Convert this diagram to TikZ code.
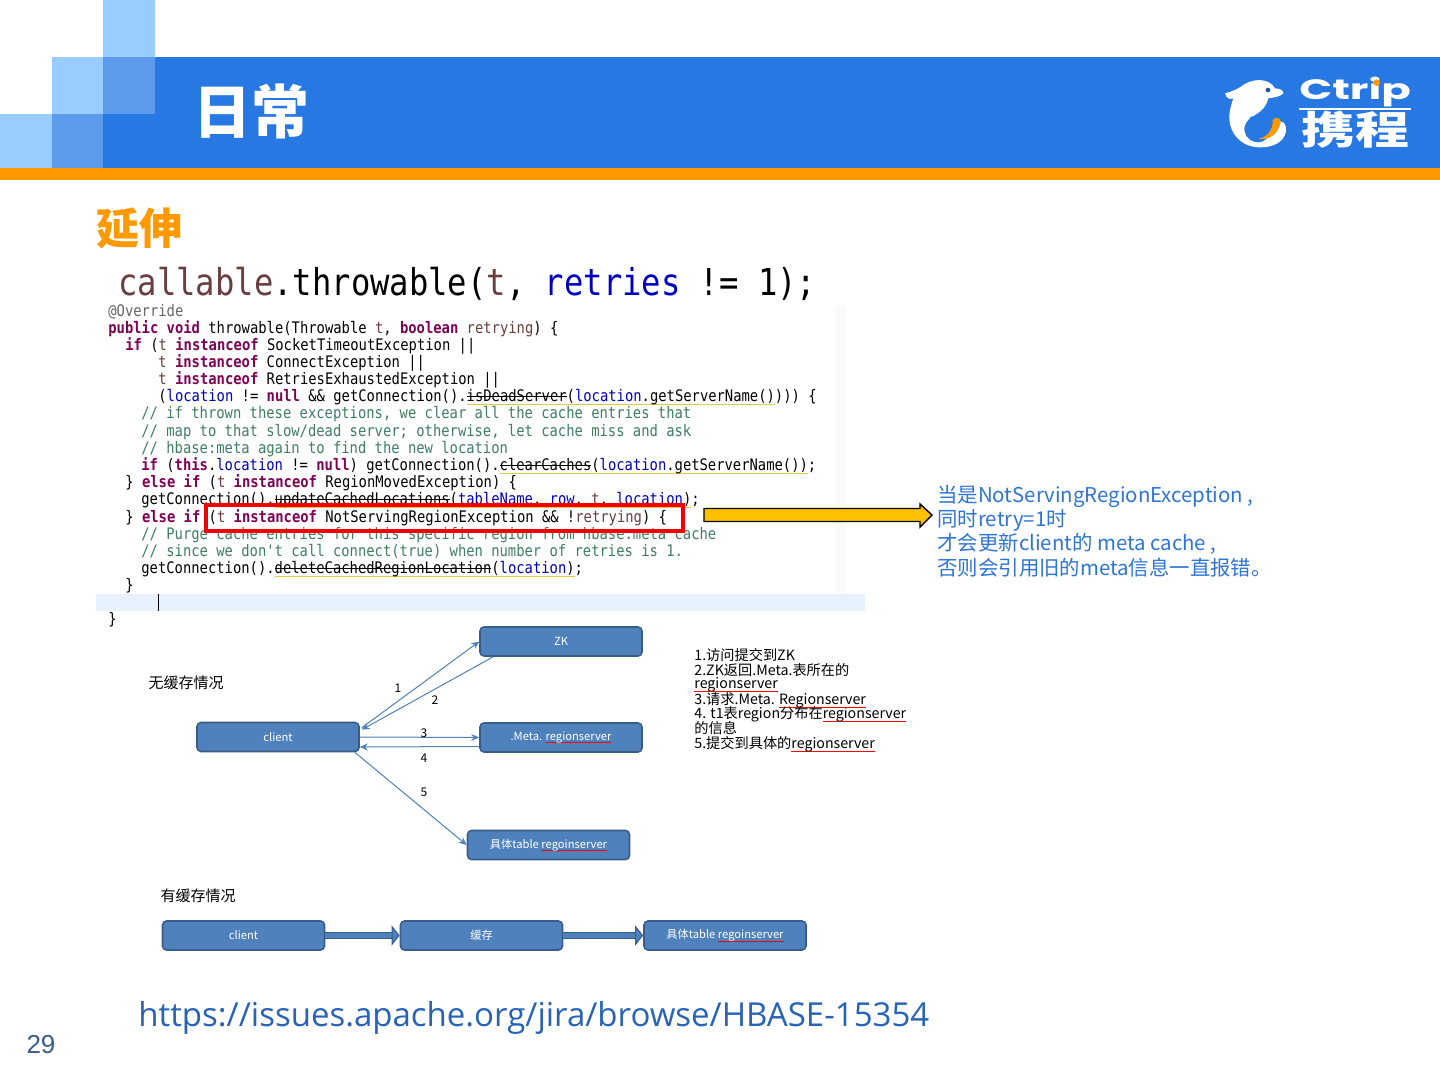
\documentclass[tikz,border=0pt]{standalone}
\usepackage{fontspec}
\setmainfont{Noto Sans CJK SC}
\setmonofont{DejaVu Sans Mono}
\newfontfamily\urlfont{Open Sans}
\newfontfamily\numfont{Liberation Sans}
\newfontfamily\logofont{Poppins}
\usetikzlibrary{arrows.meta}
\definecolor{barblue}{HTML}{2878E3}
\definecolor{paleblue}{HTML}{99CCFF}
\definecolor{midblue}{HTML}{5C9AEB}
\definecolor{barorange}{HTML}{FF9900}
\definecolor{boxblue}{HTML}{4F81BD}
\definecolor{boxedge}{HTML}{385D8A}
\definecolor{notetext}{HTML}{2E75D6}
\definecolor{kwcol}{HTML}{7F0055}
\definecolor{fldcol}{HTML}{0000C0}
\definecolor{cmtcol}{HTML}{3F7F5F}
\definecolor{argcol}{HTML}{6A3E3E}
\definecolor{warncol}{HTML}{E8C840}
\definecolor{bandcol}{HTML}{E8F2FE}
\definecolor{calloutcol}{HTML}{FFC000}
\newcommand{\kw}[1]{\textcolor{kwcol}{\bfseries #1}}
\newcommand{\fld}[1]{\textcolor{fldcol}{#1}}
\newcommand{\arrg}[1]{\textcolor{argcol}{#1}}
\newcommand{\warnline}[1]{\setbox0=\hbox{#1}\rlap{\textcolor{warncol}{\rule[-.22em]{\wd0}{.35pt}}}#1}
\newcommand{\dep}[1]{\setbox0=\hbox{#1}\rlap{\rule[.28em]{\wd0}{.35pt}}\rlap{\textcolor{warncol}{\rule[-.22em]{\wd0}{.35pt}}}#1}
\newcommand{\spell}[1]{\setbox0=\hbox{#1}\rlap{\textcolor{red}{\rule[-.24em]{\wd0}{.35pt}}}#1}
\begin{document}
\begin{tikzpicture}[
    x=0.5pt, y=-0.5pt,
    codeline/.style={anchor=west, inner sep=0pt, text height=5.4pt, text depth=1.4pt,
      font=\ttfamily\fontsize{6.92}{8}\selectfont, yscale=1.15, transform shape, yshift=-0.5pt},
    cmtline/.style={codeline, text=cmtcol},
    bluebox/.style={draw=boxedge, fill=boxblue, line width=0.8pt, rounded corners=2pt,
      minimum width=81pt, minimum height=14.5pt, inner sep=0pt, text=white,
      font=\fontsize{5.6}{6}\selectfont},
    num/.style={inner sep=0pt, font=\fontsize{6}{7}\selectfont},
    listline/.style={anchor=west, inner sep=0pt, font=\fontsize{7.1}{8}\selectfont},
    caselabel/.style={inner sep=0pt, font=\fontsize{7.5}{8}\selectfont},
    noteline/.style={anchor=west, inner sep=0pt, text=notetext, yshift=-0.5pt, font=\fontsize{10.2}{12}\selectfont},
    thin arrow/.style={draw=boxblue, line width=0.5pt, -{Stealth[length=4pt,width=3.5pt]}},
    fat arrow/.style={draw=boxedge, line width=0.7pt, double=boxblue, double distance=2.4pt,
      -{Triangle[length=4pt,width=10pt,fill=boxblue,line width=0.5pt]}}
  ]
  \useasboundingbox (0,0) rectangle (1440,1080);
  \fill[white] (0,0) rectangle (1440,1080);

  % header
  \fill[barblue] (103,57) rectangle (1440,168);
  \fill[paleblue] (103,0) rectangle (155,57);
  \fill[paleblue] (52,57) rectangle (103,114);
  \fill[midblue] (103,57) rectangle (155,114);
  \fill[paleblue] (0,114) rectangle (52,168);
  \fill[midblue] (52,114) rectangle (103,168);
  \fill[barorange] (0,168) rectangle (1440,180);
  \node[inner sep=0pt, text=white, font=\fontsize{29}{32}\selectfont\bfseries] (title) at (251,111) {日常};
  \node[inner sep=0pt, text=barorange, font=\fontsize{21.5}{24}\selectfont\bfseries] (subtitle) at (139,228) {延伸};

  % logo
  \begin{scope}[shift={(1200,60)}, x=0.1667pt, y=-0.1667pt]
    \fill[white] (75,100) .. controls (95,95) and (105,90) .. (120,82)
      .. controls (150,55) and (205,50) .. (225,85) .. controls (240,85) and (250,92) .. (250,100)
      .. controls (240,110) and (225,112) .. (205,115) .. controls (200,135) and (190,150) .. (165,165)
      .. controls (135,180) and (125,205) .. (140,230) .. controls (165,262) and (215,250) .. (222,190)
      .. controls (245,170) and (262,195) .. (258,215) .. controls (250,250) and (215,262) .. (180,262)
      .. controls (120,262) and (85,215) .. (88,165) .. controls (90,145) and (95,130) .. (100,115)
      .. controls (90,118) and (80,118) .. (75,100) -- cycle;
    \fill[barblue] (152,170) .. controls (135,200) and (150,240) .. (190,242)
      .. controls (150,235) and (145,200) .. (165,170) -- cycle;
    \fill[barorange] (218,180) .. controls (225,170) and (242,172) .. (242,185)
      .. controls (235,225) and (205,242) .. (175,236) .. controls (200,232) and (220,210) .. (218,180) -- cycle;
    \fill[barblue!70!black] (204,90) circle (7);
    \node[inner sep=0pt, text=white, xscale=1.55, transform shape, font=\logofont\bfseries\fontsize{14}{15}\selectfont] (logoname) at (465,97) {Ctrip};
    \fill[barorange] (530,68) circle (10);
    \fill[white] (297,143) rectangle (633,149);
    \node[inner sep=0pt, text=white, yscale=0.72, transform shape, font=\bfseries\fontsize{27}{28}\selectfont] (logocn) at (466,210) {携程};
  \end{scope}

  % code
  \fill[black!2] (836,306) rectangle (845,600);
  \fill[bandcol] (96,594) rectangle (865,611);
  \draw[black, line width=0.5pt] (158,594) -- (158,611);
  \node[anchor=west, inner sep=0pt, font=\ttfamily\fontsize{16.1}{18}\selectfont, yscale=1.15, transform shape] (callline) at (118,284)
    {\arrg{callable}.throwable(\arrg{t}, \fld{retries} != 1);};
  \node[codeline, text=black!60] (line1) at (108,311) {@Override};
  \node[codeline] (line2) at (108,328) {\kw{public} \kw{void} throwable(Throwable \arrg{t}, \kw{boolean} \arrg{retrying}) \{};
  \node[codeline] (line3) at (125,345) {\kw{if} (\arrg{t} \kw{instanceof} SocketTimeoutException ||};
  \node[codeline] (line4) at (158,362) {\arrg{t} \kw{instanceof} ConnectException ||};
  \node[codeline] (line5) at (158,379) {\arrg{t} \kw{instanceof} RetriesExhaustedException ||};
  \node[codeline] (line6) at (158,396) {(\fld{location} != \kw{null} \&\& getConnection().\dep{isDeadServer}\warnline{(\fld{location}.getServerName()}))) \{};
  \node[cmtline] (line7) at (141,413) {// if thrown these exceptions, we clear all the cache entries that};
  \node[cmtline] (line8) at (141,431) {// map to that slow/dead server; otherwise, let cache miss and ask};
  \node[cmtline] (line9) at (141,448) {// hbase:meta again to find the new location};
  \node[codeline] (line10) at (141,465) {\kw{if} (\kw{this}.\fld{location} != \kw{null}) getConnection().\dep{clearCaches}\warnline{(\fld{location}.getServerName())};};
  \node[codeline] (line11) at (125,482) {\} \kw{else} \kw{if} (\arrg{t} \kw{instanceof} RegionMovedException) \{};
  \node[codeline] (line12) at (141,499) {getConnection().\dep{updateCachedLocations}\warnline{(\fld{tableName}, \fld{row}, \arrg{t}, \fld{location})};};
  \node[codeline] (line13) at (125,517) {\} \kw{else} \kw{if} (\arrg{t} \kw{instanceof} NotServingRegionException \&\& !\arrg{retrying}) \{};
  \node[cmtline] (line14) at (141,534) {// Purge cache entries for this specific region from hbase:meta cache};
  \node[cmtline] (line15) at (141,551) {// since we don't call connect(true) when number of retries is 1.};
  \node[codeline] (line16) at (141,568) {getConnection().\dep{deleteCachedRegionLocation}\warnline{(\fld{location})};};
  \node[codeline] (line17) at (125,585) {\}};
  \node[codeline] (line18) at (108,619) {\}};
  \draw[red!95!black, line width=1.6pt] (206,505) rectangle (683,531);

  % callout
  \draw[black, fill=calloutcol, line width=0.7pt] (704,508.5) -- (920,508.5) -- (920,504) -- (932,515)
    -- (920,527) -- (920,521.5) -- (704,521.5) -- cycle;
  \node[noteline] (note1) at (937,495) {当是NotServingRegionException ,};
  \node[noteline] (note2) at (937,519) {同时retry=1时};
  \node[noteline] (note3) at (937,543) {才会更新client的 meta cache ,};
  \node[noteline] (note4) at (937,567) {否则会引用旧的meta信息一直报错。};

  % uncached path
  \node[caselabel] (nocache) at (186,683) {无缓存情况};
  \node[bluebox] (client) at (278,737) {client};
  \node[bluebox] (zk) at (561,641.5) {ZK};
  \node[bluebox] (meta) at (561,737.5) {.Meta. \spell{regionserver}};
  \node[bluebox] (table) at (548.5,845) {具体table \spell{regoinserver}};
  \draw[thin arrow] ([xshift=1pt,yshift=-3pt]client.north east) -- (zk.west);
  \draw[thin arrow] ([xshift=7pt]zk.south west) -- ([xshift=1pt,yshift=-4pt]client.north east);
  \draw[thin arrow] (client.east) -- (meta.west);
  \draw[thin arrow] ([yshift=-4.5pt]meta.west) -- ([yshift=-5pt]client.east);
  \draw[thin arrow] ([xshift=-2.5pt]client.south east) -- (table.west);
  \node[num] (n1) at (398,688) {1};
  \node[num] (n2) at (435,700) {2};
  \node[num] (n3) at (424,733) {3};
  \node[num] (n4) at (424,758) {4};
  \node[num] (n5) at (424,792) {5};

  % steps
  \node[listline] (step1) at (694,655) {1.访问提交到ZK};
  \node[listline] (step2) at (694,670) {2.ZK返回.Meta.表所在的};
  \node[listline] (step3) at (694,685) {\spell{regionserver}};
  \node[listline] (step4) at (694,700) {3.请求.Meta. \spell{Regionserver}};
  \node[listline] (step5) at (694,714) {4. t1表region分布在\spell{regionserver}};
  \node[listline] (step6) at (694,728) {的信息};
  \node[listline] (step7) at (694,744) {5.提交到具体的\spell{regionserver}};

  % cached path
  \node[caselabel] (withcache) at (198,896) {有缓存情况};
  \node[bluebox] (client2) at (243.5,935.5) {client};
  \node[bluebox] (cache) at (481.5,935.5) {缓存};
  \node[bluebox] (table2) at (725,935.5) {具体table \spell{regoinserver}};
  \draw[fat arrow] (client2) -- (cache);
  \draw[fat arrow] (cache) -- (table2);

  % footer
  \node[inner sep=0pt, anchor=west, text=notetext!85!black, font=\urlfont\fontsize{16.5}{18}\selectfont] (link) at (138,1018) {https://issues.apache.org/jira/browse/HBASE-15354};
  \node[inner sep=0pt, text=boxedge, font=\numfont\fontsize{13}{14}\selectfont] (pagenum) at (41,1045) {29};
\end{tikzpicture}
\end{document}
